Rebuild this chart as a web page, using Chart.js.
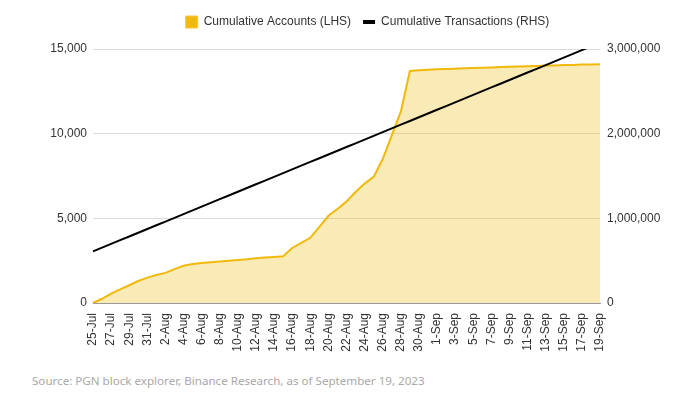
<!DOCTYPE html>
<html>
<head>
<meta charset="utf-8">
<script src="https://cdn.jsdelivr.net/npm/chart.js@4.4.0/dist/chart.umd.min.js"></script>
<style>
  body { margin: 0; background: #fff; }
  #wrap { position: relative; width: 685px; height: 398px; }
  #source {
    position: absolute; left: 32px; top: 373px;
    font-family: "Noto Sans", sans-serif; font-size: 11.6px; color: #a8a8a8;
  }
</style>
</head>
<body>
<div id="wrap">
  <canvas id="chart" width="685" height="360"></canvas>
  <div id="source">Source: PGN block explorer, Binance Research, as of September 19, 2023</div>
</div>
<script>
// Dates, one per day from 25-Jul to 19-Sep
const dates = [
  '25-Jul', '26-Jul', '27-Jul', '28-Jul', '29-Jul', '30-Jul', '31-Jul',
  '1-Aug', '2-Aug', '3-Aug', '4-Aug', '5-Aug', '6-Aug', '7-Aug', '8-Aug', '9-Aug', '10-Aug',
  '11-Aug', '12-Aug', '13-Aug', '14-Aug', '15-Aug', '16-Aug', '17-Aug', '18-Aug', '19-Aug', '20-Aug',
  '21-Aug', '22-Aug', '23-Aug', '24-Aug', '25-Aug', '26-Aug', '27-Aug', '28-Aug', '29-Aug', '30-Aug', '31-Aug',
  '1-Sep', '2-Sep', '3-Sep', '4-Sep', '5-Sep', '6-Sep', '7-Sep', '8-Sep', '9-Sep', '10-Sep',
  '11-Sep', '12-Sep', '13-Sep', '14-Sep', '15-Sep', '16-Sep', '17-Sep', '18-Sep', '19-Sep'
];

// Cumulative accounts (left axis)
const accounts = [
  0, 250, 550, 800, 1050, 1300, 1500,
  1650, 1780, 2000, 2200, 2300, 2360, 2410, 2450, 2500, 2540,
  2580, 2640, 2680, 2720, 2760, 3250, 3550, 3850, 4500, 5150,
  5550, 6000, 6550, 7050, 7450, 8500, 9900, 11300, 13700, 13750, 13780,
  13800, 13820, 13840, 13860, 13880, 13900, 13910, 13930, 13950, 13960,
  13980, 14000, 14020, 14030, 14050, 14060, 14080, 14090, 14100
];

// Cumulative transactions (right axis)
const transactions = [
  610000, 654000, 698000, 742000, 786000, 830000, 874000,
  918000, 962000, 1006000, 1050000, 1094000, 1138000, 1182000, 1226000, 1270000, 1314000,
  1358000, 1402000, 1446000, 1490000, 1534000, 1578000, 1622000, 1666000, 1710000, 1754000,
  1798000, 1842000, 1886000, 1930000, 1974000, 2018000, 2062000, 2106000, 2150000, 2194000, 2238000,
  2282000, 2326000, 2370000, 2414000, 2458000, 2502000, 2546000, 2590000, 2634000, 2678000,
  2722000, 2766000, 2810000, 2854000, 2898000, 2942000, 2986000, 3030000, 3074000
];

const leftTicks = [0, 5000, 10000, 15000];
const rightTicks = [0, 1000000, 2000000, 3000000];

const fmt = v => Number(v).toLocaleString('en-US');
const FONT = 'Liberation Sans, Arial, sans-serif';

// push the plot area down below the legend
const legendSpace = {
  id: 'legendSpace',
  beforeInit(chart) {
    const fit = chart.legend.fit;
    chart.legend.fit = function() {
      fit.bind(chart.legend)();
      this.height += 11;
    };
  }
};

const ctx = document.getElementById('chart').getContext('2d');
new Chart(ctx, {
  type: 'line',
  data: {
    labels: dates,
    datasets: [
      {
        label: 'Cumulative Accounts (LHS)',
        data: accounts,
        yAxisID: 'y',
        borderColor: '#f0b90b',
        backgroundColor: 'rgba(240, 185, 11, 0.3)',
        borderWidth: 2,
        fill: 'origin',
        pointRadius: 0,
        tension: 0,
        order: 1
      },
      {
        label: 'Cumulative Transactions (RHS)',
        data: transactions,
        yAxisID: 'y1',
        borderColor: '#000',
        backgroundColor: '#000',
        borderWidth: 2,
        fill: false,
        pointRadius: 0,
        tension: 0,
        order: 0
      }
    ]
  },
  plugins: [legendSpace],
  options: {
    responsive: false,
    animation: false,
    layout: { padding: { left: 50, right: 0, top: 4, bottom: 0 } },
    plugins: {
      legend: {
        display: true,
        position: 'top',
        labels: {
          font: { family: FONT, size: 12 },
          color: '#333',
          padding: 12,
          boxWidth: 12,
          boxHeight: 12,
          usePointStyle: true,
          pointStyleWidth: 12,
          sort: (a, b) => a.datasetIndex - b.datasetIndex,
          generateLabels: function(chart) {
            return chart.data.datasets.map(function(ds, i) {
              const isLine = i === 1;
              return {
                text: ds.label,
                datasetIndex: i,
                fillStyle: isLine ? '#000' : '#f0b90b',
                strokeStyle: isLine ? '#000' : '#f5c842',
                lineWidth: isLine ? 4 : 1,
                pointStyle: isLine ? 'line' : 'rect',
                fontColor: '#333',
                hidden: false
              };
            });
          }
        }
      },
      tooltip: { enabled: false }
    },
    scales: {
      x: {
        grid: { display: false },
        border: { display: true, color: '#999' },
        afterFit: function(scale) { scale.height = 57; },
        ticks: {
          autoSkip: false,
          maxRotation: 90,
          minRotation: 90,
          padding: 2,
          color: '#333',
          font: { family: FONT, size: 12 },
          callback: function(val, idx) {
            return idx % 2 === 0 ? this.getLabelForValue(val) : '';
          }
        }
      },
      y: {
        position: 'left',
        min: 0,
        max: 15000,
        afterFit: function(scale) { scale.width = 43; },
        afterBuildTicks: function(scale) { scale.ticks = leftTicks.map(v => ({ value: v })); },
        grid: { color: '#dcdcdc', drawTicks: false },
        border: { display: false },
        ticks: {
          padding: 6,
          color: '#333',
          font: { family: FONT, size: 12 },
          callback: v => fmt(v)
        }
      },
      y1: {
        position: 'right',
        min: 0,
        max: 3000000,
        afterFit: function(scale) { scale.width = 85; },
        afterBuildTicks: function(scale) { scale.ticks = rightTicks.map(v => ({ value: v })); },
        grid: { drawOnChartArea: false, drawTicks: false },
        border: { display: false },
        ticks: {
          padding: 7,
          color: '#333',
          font: { family: FONT, size: 12 },
          callback: v => fmt(v)
        }
      }
    }
  }
});
</script>
</body>
</html>
